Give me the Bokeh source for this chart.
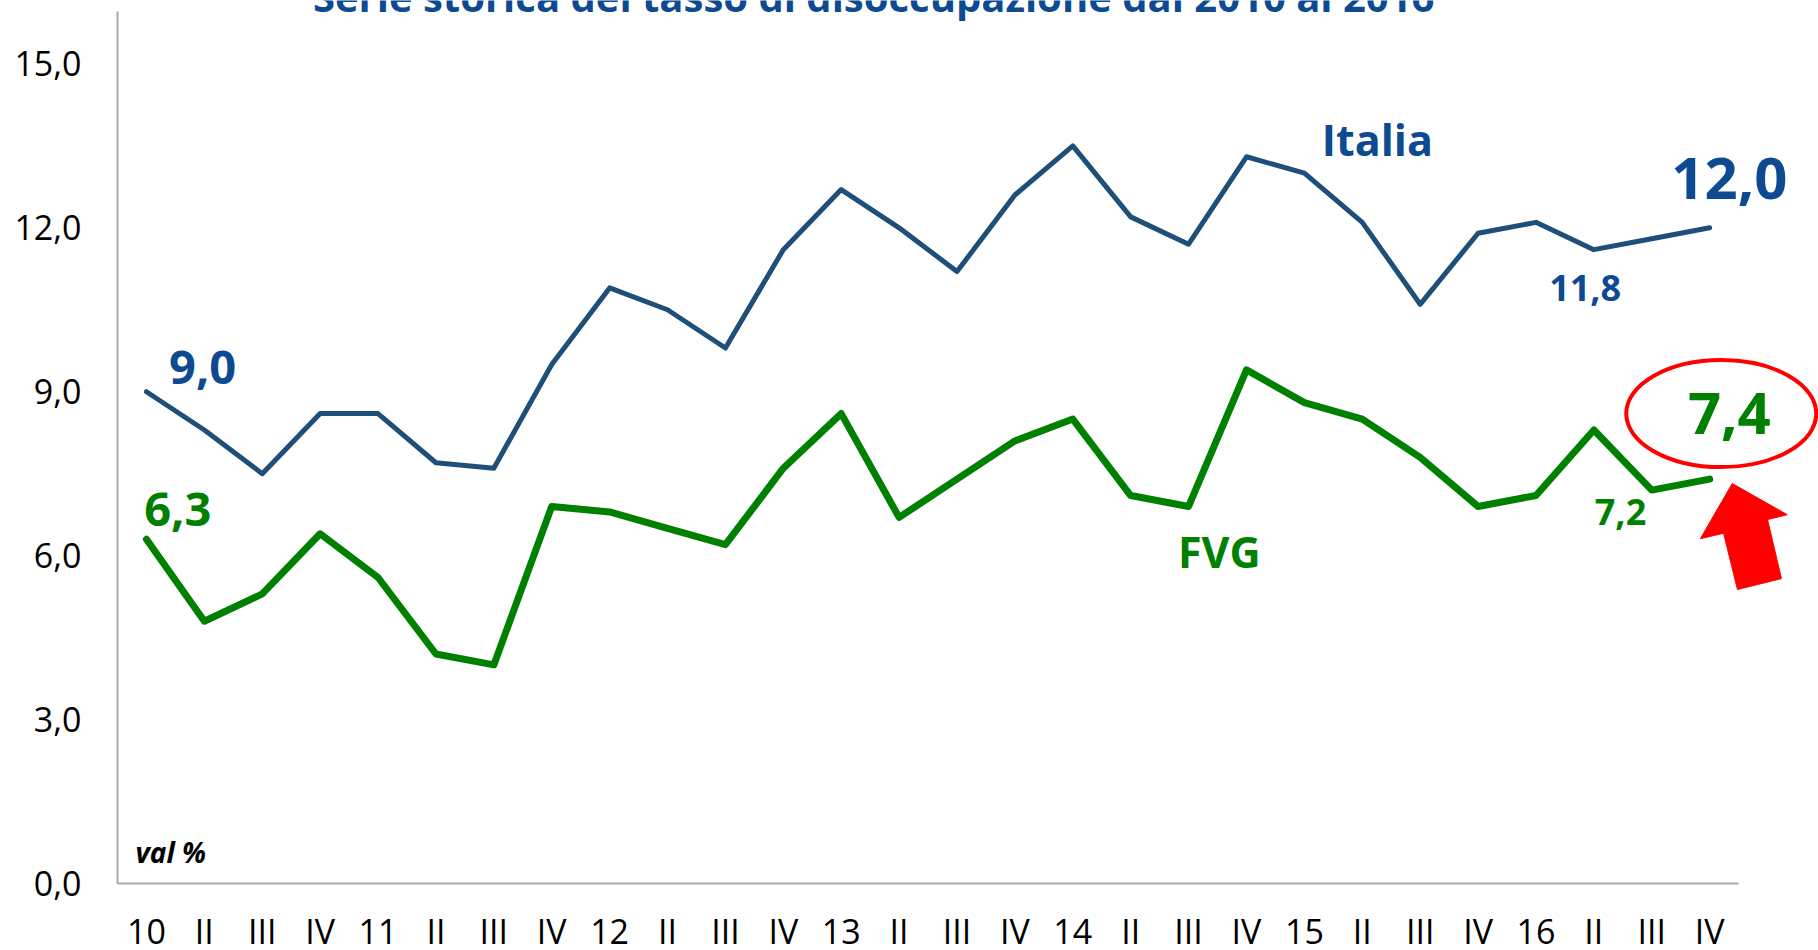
from bokeh.plotting import figure
from bokeh.models import Range1d, FixedTicker
from bokeh.core.properties import value
from bokeh.embed import file_html
from bokeh.resources import INLINE

# ---------------- data ----------------
periods = ["10", "II", "III", "IV", "11", "II", "III", "IV", "12", "II", "III", "IV",
           "13", "II", "III", "IV", "14", "II", "III", "IV", "15", "II", "III", "IV",
           "16", "II", "III", "IV"]
italia = [9.0, 8.3, 7.5, 8.6, 8.6, 7.7, 7.6, 9.5, 10.9, 10.5, 9.8, 11.6,
          12.7, 12.0, 11.2, 12.6, 13.5, 12.2, 11.7, 13.3, 13.0, 12.1, 10.6, 11.9,
          12.1, 11.6, 11.8, 12.0]
fvg = [6.3, 4.8, 5.3, 6.4, 5.6, 4.2, 4.0, 6.9, 6.8, 6.5, 6.2, 7.6,
       8.6, 6.7, 7.4, 8.1, 8.5, 7.1, 6.9, 9.4, 8.8, 8.5, 7.8, 6.9,
       7.1, 8.3, 7.2, 7.4]
y_ticks = [0, 3, 6, 9, 12, 15]
y_tick_labels = ["0,0", "3,0", "6,0", "9,0", "12,0", "15,0"]
title_text = "Serie storica del tasso di disoccupazione dal 2010 al 2016"
series_names = ["Italia", "FVG"]
unit_note = "val %"

# ---------------- styling ----------------
BLUE_LINE = "#1F4E79"
BLUE_TEXT = "#0D4A92"
GREEN = "#008000"
RED = "#FF0000"
AXIS_GREY = "#A6A6A6"
FONT = value("Open Sans")

x = list(range(len(periods)))


def fmt(v):
    return f"{v:.1f}".replace(".", ",")


p = figure(frame_width=1701, frame_height=883,
           x_range=Range1d(-0.5, 28.88), y_range=Range1d(0, 16.16),
           output_backend="svg", toolbar_location=None,
           min_border_left=117, min_border_right=0,
           min_border_top=0, min_border_bottom=0)
p.outline_line_color = None
p.xgrid.visible = False
p.ygrid.visible = False
p.background_fill_color = "white"
p.border_fill_color = "white"

# axes
xa = p.xaxis[0]
xa.ticker = FixedTicker(ticks=x)
xa.major_label_overrides = {i: lab for i, lab in zip(x, periods)}
xa.bounds = (-0.5, len(periods) - 0.5)
ya = p.yaxis[0]
ya.ticker = FixedTicker(ticks=y_ticks)
ya.major_label_overrides = {t: lab for t, lab in zip(y_ticks, y_tick_labels)}
ya.bounds = (0, 15.95)
for ax in (xa, ya):
    ax.axis_line_color = AXIS_GREY
    ax.axis_line_width = 2
    ax.major_tick_out = 0
    ax.major_tick_in = 0
    ax.minor_tick_out = 0
    ax.minor_tick_in = 0
    ax.major_label_text_font = "Open Sans"
    ax.major_label_text_font_size = "34px"
    ax.major_label_text_color = "black"
xa.major_label_standoff = 24
ya.major_label_standoff = 36

# lines
p.line(x, italia, line_color=BLUE_LINE, line_width=5, line_join="round", line_cap="round")
p.line(x, fvg, line_color=GREEN, line_width=7, line_join="round", line_cap="round")

# value labels (anchored to data points)
last = len(x) - 1
prev = last - 1
p.text(x=[x[0] + 0.97], y=[italia[0] + 0.44], text=[fmt(italia[0])],
       text_font=FONT, text_font_style="bold", text_font_size="47px",
       text_color=BLUE_TEXT, text_align="center", text_baseline="middle")
p.text(x=[x[0] + 0.54], y=[fvg[0] + 0.54], text=[fmt(fvg[0])],
       text_font=FONT, text_font_style="bold", text_font_size="47px",
       text_color=GREEN, text_align="center", text_baseline="middle")
p.text(x=[x[last] + 0.34], y=[italia[last] + 0.90], text=[fmt(italia[last])],
       text_font=FONT, text_font_style="bold", text_font_size="58px",
       text_color=BLUE_TEXT, text_align="center", text_baseline="middle")
p.text(x=[x[last] + 0.34], y=[fvg[last] + 1.20], text=[fmt(fvg[last])],
       text_font=FONT, text_font_style="bold", text_font_size="58px",
       text_color=GREEN, text_align="center", text_baseline="middle")
p.text(x=[x[prev] - 1.15], y=[italia[prev] - 0.91], text=[fmt(italia[prev])],
       text_font=FONT, text_font_style="bold", text_font_size="36px",
       text_color=BLUE_TEXT, text_align="center", text_baseline="middle")
p.text(x=[x[prev] - 0.54], y=[fvg[prev] - 0.41], text=[fmt(fvg[prev])],
       text_font=FONT, text_font_style="bold", text_font_size="36px",
       text_color=GREEN, text_align="center", text_baseline="middle")

# series names
p.text(x=[21.26], y=[13.62], text=[series_names[0]],
       text_font=FONT, text_font_style="bold", text_font_size="43px",
       text_color=BLUE_TEXT, text_align="center", text_baseline="middle")
p.text(x=[18.53], y=[6.08], text=[series_names[1]],
       text_font=FONT, text_font_style="bold", text_font_size="43px",
       text_color=GREEN, text_align="center", text_baseline="middle")

# unit note
p.text(x=[-0.19], y=[0.57], text=[unit_note],
       text_font=FONT, text_font_style="bold italic", text_font_size="28px",
       text_color="black", text_align="left", text_baseline="middle")

# title (cut at the top, as in the original)
p.text(x=[12.56], y=[16.24], text=[title_text],
       text_font=FONT, text_font_style="bold", text_font_size="40px",
       text_color=BLUE_TEXT, text_align="center", text_baseline="middle")

# red ellipse around the last FVG value
p.ellipse(x=[x[last] + 0.2], y=[fvg[last] + 1.2], width=190, height=107,
          width_units="screen", height_units="screen",
          fill_color=None, line_color=RED, line_width=4)

# red arrow pointing at the last FVG value
ax0, ay0 = x[last], fvg[last]
arrow_dx = [0.39, 1.34, 1.00, 1.24, 0.48, 0.24, -0.16]
arrow_dy = [-0.08, -0.65, -0.74, -1.82, -2.02, -0.99, -1.09]
p.patch([ax0 + d for d in arrow_dx], [ay0 + d for d in arrow_dy],
        fill_color=RED, line_color=RED, line_width=1)

open("out.html", "w").write(file_html(p, INLINE))
